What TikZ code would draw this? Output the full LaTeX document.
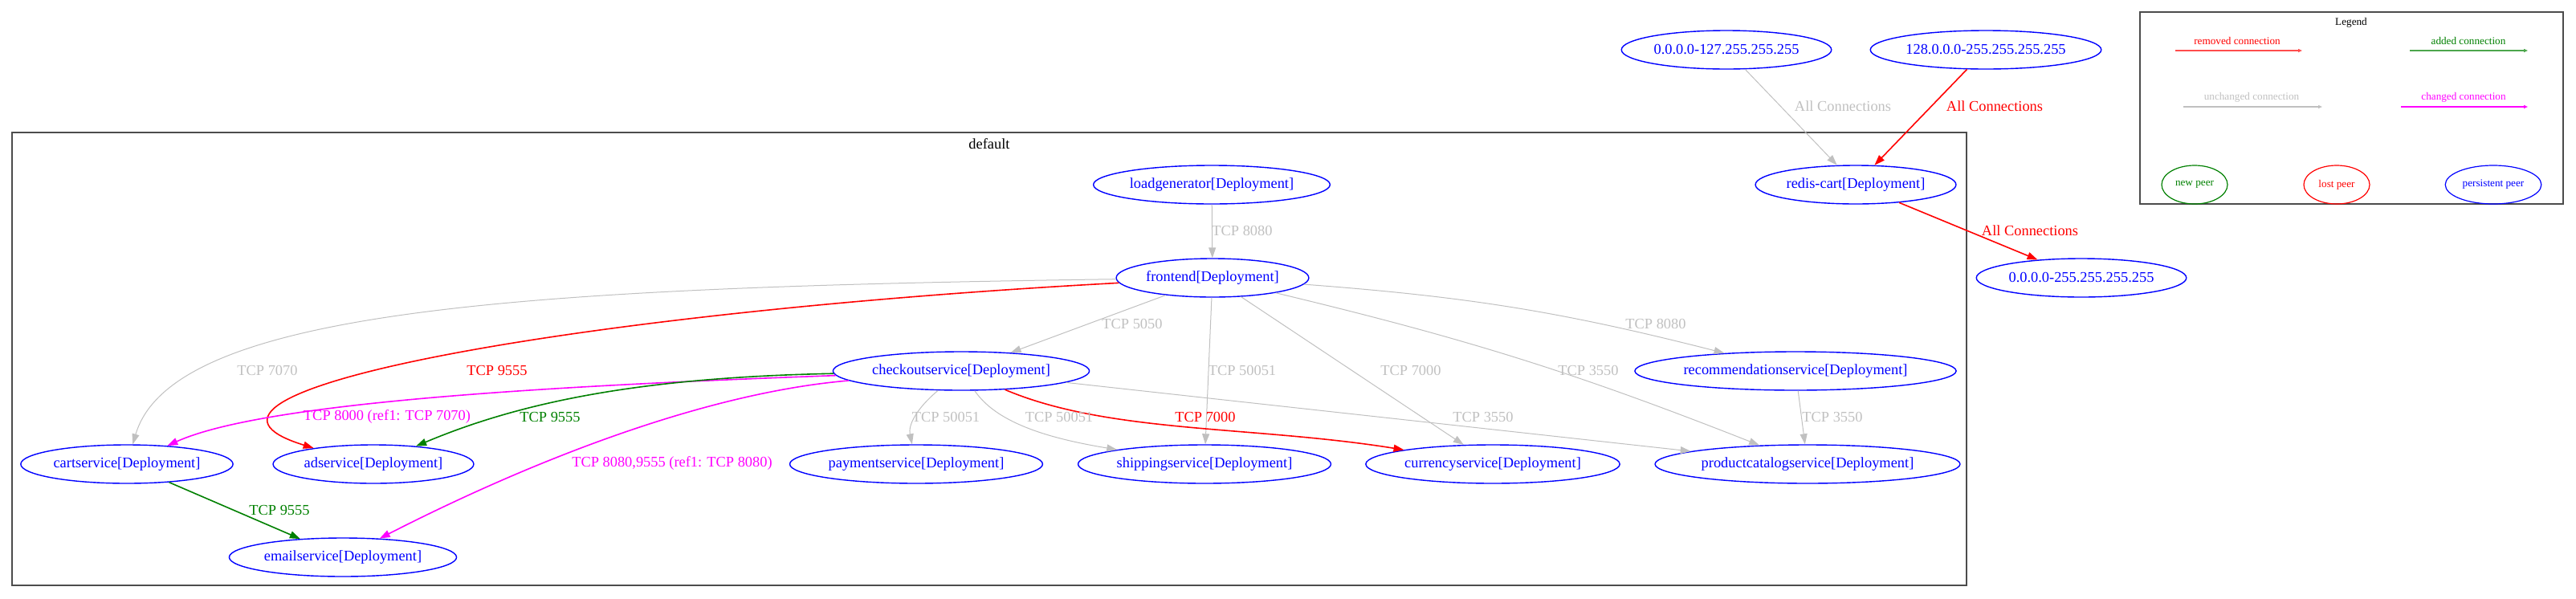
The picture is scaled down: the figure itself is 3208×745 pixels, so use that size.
\documentclass[tikz,border=0pt]{standalone}
\usepackage{fontspec}
\setmainfont{Liberation Serif}
\usepackage{xcolor}
\usepackage{tikz}
\usetikzlibrary{arrows.meta,shapes.geometric}

\definecolor{silver}{HTML}{C0C0C0}
\definecolor{webgreen}{HTML}{008000}
\definecolor{fuchsia}{HTML}{FF00FF}

\begin{document}
\begin{tikzpicture}[x=0.5pt, y=0.5pt, >={Triangle[length=6.5pt,width=4.5pt]},
  peer/.style={ellipse, draw=blue, line width=0.7pt, text=blue, font=\fontsize{9.2}{11}\selectfont, inner xsep=1pt, inner ysep=0pt, minimum height=24pt},
  legpeer/.style={ellipse, line width=0.6pt, font=\fontsize{6.6}{8}\selectfont, inner xsep=2pt, inner ysep=0pt, minimum height=24pt, minimum width=41pt},
  kept/.style={->, silver, line width=0.5pt},
  removed/.style={->, red, line width=0.8pt},
  added/.style={->, webgreen, line width=0.8pt},
  changed/.style={->, fuchsia, line width=0.8pt},
  lbl/.style={font=\fontsize{9.2}{11}\selectfont, inner sep=0pt},
  legtext/.style={font=\fontsize{6.6}{8}\selectfont, inner sep=0pt},
  legarrow/.style={-{Triangle[length=2.5pt,width=2pt]}, line width=0.9pt},
  frame/.style={draw=black!70, line width=1pt}]
  \useasboundingbox (0,0) rectangle (3208,-745);

  % --- Boxes ---
  \draw[frame] (15,-165) rectangle (2449,-729);
  \node[lbl] (default) at (1232,-179) {default};
  \draw[frame] (2665,-15) rectangle (3192,-254);
  \node[legtext] (legend) at (2928,-28) {Legend};

  % --- Peers ---
  \node[peer] (ipLow) at (2150,-62) {0.0.0.0-127.255.255.255};
  \node[peer] (ipHigh) at (2473,-62) {128.0.0.0-255.255.255.255};
  \node[peer] (ipAll) at (2592,-346) {0.0.0.0-255.255.255.255};
  \node[peer] (loadgen) at (1509,-230) {loadgenerator[Deployment]};
  \node[peer] (redis) at (2311,-230) {redis-cart[Deployment]};
  \node[peer] (frontend) at (1510,-346) {frontend[Deployment]};
  \node[peer] (checkout) at (1197,-462) {checkoutservice[Deployment]};
  \node[peer] (recommend) at (2236,-462) {recommendationservice[Deployment]};
  \node[peer] (cart) at (158,-578) {cartservice[Deployment]};
  \node[peer] (ad) at (465,-578) {adservice[Deployment]};
  \node[peer] (payment) at (1141,-578) {paymentservice[Deployment]};
  \node[peer] (shipping) at (1500,-578) {shippingservice[Deployment]};
  \node[peer] (currency) at (1859,-578) {currencyservice[Deployment]};
  \node[peer] (catalog) at (2251,-578) {productcatalogservice[Deployment]};
  \node[peer] (email) at (427,-694) {emailservice[Deployment]};

  % --- Connections ---
  \draw[kept] (ipLow) -- (redis);
  \draw[removed] (ipHigh) -- (redis);
  \draw[removed] (redis) -- (ipAll);
  \draw[kept] (loadgen) -- (frontend);
  \draw[kept] (frontend) .. controls (650,-358) and (215,-385) .. (cart);
  \draw[removed] (frontend) .. controls (700,-390) and (170,-490) .. (ad.165);
  \draw[kept] (frontend) -- (checkout);
  \draw[kept] (frontend) -- (shipping);
  \draw[kept] (frontend) -- (currency);
  \draw[kept] (frontend) to[bend left=4] (catalog);
  \draw[kept] (frontend) to[bend left=5] (recommend);
  \draw[kept] (checkout) .. controls (1140,-510) and (1131,-530) .. (payment);
  \draw[kept] (checkout) .. controls (1240,-525) and (1300,-545) .. (shipping);
  \draw[removed] (checkout) .. controls (1380,-540) and (1560,-530) .. (currency);
  \draw[kept] (checkout) -- (catalog);
  \draw[kept] (recommend) -- (catalog);
  \draw[changed] (checkout) .. controls (700,-480) and (330,-500) .. (cart);
  \draw[added] (checkout) .. controls (800,-470) and (650,-500) .. (ad);
  \draw[changed] (checkout) .. controls (870,-490) and (650,-580) .. (email);
  \draw[added] (cart) -- (email);

  % --- Connection labels ---
  \node[lbl, silver] (lAllLow) at (2295,-132) {All Connections};
  \node[lbl, red] (lAllHigh) at (2484,-132) {All Connections};
  \node[lbl, red] (lAllOut) at (2528,-287) {All Connections};
  \node[lbl, silver] (lLoad) at (1547,-287) {TCP 8080};
  \node[lbl, silver] (lCart) at (333,-461) {TCP 7070};
  \node[lbl, red] (lAd) at (619,-461) {TCP 9555};
  \node[lbl, silver] (lCheckout) at (1410,-403) {TCP 5050};
  \node[lbl, silver] (lShip) at (1547,-461) {TCP 50051};
  \node[lbl, silver] (lCur) at (1757,-461) {TCP 7000};
  \node[lbl, silver] (lCat) at (1978,-461) {TCP 3550};
  \node[lbl, silver] (lRec) at (2062,-403) {TCP 8080};
  \node[lbl, silver] (lPay2) at (1178,-519) {TCP 50051};
  \node[lbl, silver] (lShip2) at (1319,-519) {TCP 50051};
  \node[lbl, red] (lCur2) at (1501,-519) {TCP 7000};
  \node[lbl, silver] (lCat2) at (1847,-519) {TCP 3550};
  \node[lbl, silver] (lCat3) at (2282,-519) {TCP 3550};
  \node[lbl, fuchsia] (lCart2) at (482,-519) {TCP 8000 (ref1: TCP 7070)};
  \node[lbl, webgreen] (lAd2) at (685,-519) {TCP 9555};
  \node[lbl, fuchsia] (lEmail) at (837,-577) {TCP 8080,9555 (ref1: TCP 8080)};
  \node[lbl, webgreen] (lEmail2) at (348,-635) {TCP 9555};

  % --- Legend ---
  \node[legtext, red] (tRemoved) at (2786,-51) {removed connection};
  \node[legtext, webgreen] (tAdded) at (3074,-51) {added connection};
  \node[legtext, silver] (tKept) at (2804,-121) {unchanged connection};
  \node[legtext, fuchsia] (tChanged) at (3068,-121) {changed connection};
  \coordinate (remA) at (2709,-63);
  \coordinate (remB) at (2867,-63);
  \coordinate (addA) at (3001,-63);
  \coordinate (addB) at (3148,-63);
  \coordinate (keptA) at (2719,-133);
  \coordinate (keptB) at (2892,-133);
  \coordinate (chgA) at (2990,-133);
  \coordinate (chgB) at (3148,-133);
  \draw[legarrow, red!70] (remA) -- (remB);
  \draw[legarrow, webgreen!70] (addA) -- (addB);
  \draw[legarrow, silver] (keptA) -- (keptB);
  \draw[legarrow, fuchsia] (chgA) -- (chgB);
  \node[legpeer, draw=webgreen, text=webgreen] (newPeer) at (2733,-230) {new peer};
  \node[legpeer, draw=red, text=red] (lostPeer) at (2910,-230) {lost peer};
  \node[legpeer, draw=blue, text=blue] (keptPeer) at (3105,-230) {persistent peer};
\end{tikzpicture}
\end{document}
